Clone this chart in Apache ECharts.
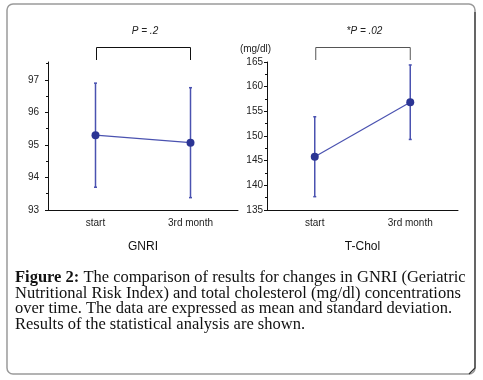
<!DOCTYPE html>
<html>
<head>
<meta charset="utf-8">
<script src="https://cdn.jsdelivr.net/npm/echarts@6/dist/echarts.min.js"></script>
<style>
  html, body { margin: 0; padding: 0; background: #fff; }
  #chart { width: 483px; height: 380px; }
</style>
</head>
<body>
<div id="chart"></div>
<script>
const categories = ['start', '3rd month'];
const gnriMean = [95.3, 95.07];
const gnriSd = [1.6, 1.69];
const cholMean = [145.8, 156.85];
const cholSd = [8.1, 7.55];
const gnriTicks = [93, 94, 95, 96, 97];
const pLabels = ['P = .2', '*P = .02'];
const captionLines = [
  'The comparison of results for changes in GNRI (Geriatric',
  'Nutritional Risk Index) and total cholesterol (mg/dl) concentrations',
  'over time. The data are expressed as mean and standard deviation.',
  'Results of the statistical analysis are shown.',
];

const dotColor = '#2b3594';
const lineColor = '#4a52b0';
const axisFont = { fontFamily: 'Liberation Sans', fontSize: 10, color: '#222' };

const chart = echarts.init(document.getElementById('chart'), null, { renderer: 'canvas' });

// mean +/- sd as [cat, low, high]
const errData = (mean, sd) => mean.map((m, i) => [i, +(m - sd[i]).toFixed(2), +(m + sd[i]).toFixed(2)]);

const renderErr = (params, api) => {
  const lo = api.coord([api.value(0), api.value(1)]);
  const hi = api.coord([api.value(0), api.value(2)]);
  const cap = 1.5;
  const style = { stroke: lineColor, lineWidth: 1.5 };
  return {
    type: 'group',
    children: [
      { type: 'line', shape: { x1: lo[0], y1: lo[1], x2: hi[0], y2: hi[1] }, style },
      { type: 'line', shape: { x1: lo[0] - cap, y1: lo[1], x2: lo[0] + cap, y2: lo[1] }, style },
      { type: 'line', shape: { x1: hi[0] - cap, y1: hi[1], x2: hi[0] + cap, y2: hi[1] }, style },
    ],
  };
};

const xAxisBase = (idx, name) => ({
  type: 'category',
  gridIndex: idx,
  data: categories,
  boundaryGap: true,
  name: name,
  nameLocation: 'middle',
  nameGap: 31,
  nameTextStyle: { fontFamily: 'Liberation Sans', fontSize: 12, color: '#111' },
  axisLine: { lineStyle: { color: '#111', width: 1 } },
  axisTick: { alignWithLabel: true, length: 3, lineStyle: { color: '#111' } },
  axisLabel: Object.assign({ margin: 8 }, axisFont),
  splitLine: { show: false },
});

const option = {
  backgroundColor: '#fff',
  animation: false,
  grid: [
    { left: 48, top: 62, width: 190, height: 148, containLabel: false },
    { left: 267, top: 62, width: 191, height: 148, containLabel: false },
  ],
  xAxis: [xAxisBase(0, 'GNRI'), xAxisBase(1, 'T-Chol')],
  yAxis: [
    {
      type: 'value',
      gridIndex: 0,
      min: 93,
      max: 97.55,
      interval: 1,
      axisLine: { show: true, lineStyle: { color: '#111' } },
      axisTick: { show: true, length: 3, customValues: gnriTicks, lineStyle: { color: '#111' } },
      minorTick: { show: true, splitNumber: 2, length: 2, lineStyle: { color: '#111' } },
      axisLabel: Object.assign({ margin: 9, customValues: gnriTicks }, axisFont),
      splitLine: { show: false },
    },
    {
      type: 'value',
      gridIndex: 1,
      min: 135,
      max: 165,
      interval: 5,
      name: '(mg/dl)',
      nameLocation: 'end',
      nameGap: 8,
      nameTextStyle: { fontFamily: 'Liberation Sans', fontSize: 10, color: '#222', align: 'right', padding: [0, -4, 0, 0] },
      axisLine: { show: true, lineStyle: { color: '#111' } },
      axisTick: { show: true, length: 3, lineStyle: { color: '#111' } },
      minorTick: { show: true, splitNumber: 2, length: 2, lineStyle: { color: '#111' } },
      axisLabel: Object.assign({ margin: 4 }, axisFont),
      splitLine: { show: false },
    },
  ],
  series: [
    {
      type: 'custom',
      xAxisIndex: 0,
      yAxisIndex: 0,
      renderItem: renderErr,
      data: errData(gnriMean, gnriSd),
      z: 2,
    },
    {
      type: 'line',
      xAxisIndex: 0,
      yAxisIndex: 0,
      data: gnriMean,
      symbol: 'circle',
      symbolSize: 8,
      itemStyle: { color: dotColor },
      lineStyle: { color: lineColor, width: 1.2 },
      z: 3,
    },
    {
      type: 'custom',
      xAxisIndex: 1,
      yAxisIndex: 1,
      renderItem: renderErr,
      data: errData(cholMean, cholSd),
      z: 2,
    },
    {
      type: 'line',
      xAxisIndex: 1,
      yAxisIndex: 1,
      data: cholMean,
      symbol: 'circle',
      symbolSize: 8,
      itemStyle: { color: dotColor },
      lineStyle: { color: lineColor, width: 1.2 },
      z: 3,
    },
  ],
};

chart.setOption(option);

// brackets + p values above each panel, and the frame and caption
const graphics = [];
graphics.push({
  type: 'rect',
  shape: { x: 7, y: 4, width: 468, height: 370, r: 6 },
  style: { fill: 'none', stroke: '#9a9a9a', lineWidth: 1.5 },
  z: -1,
});
graphics.push({
  type: 'polyline',
  shape: { points: [[475, 12], [475, 368], [469, 374]] },
  style: { fill: 'none', stroke: '#333', lineWidth: 1.2 },
});

[0, 1].forEach((g) => {
  const x1 = chart.convertToPixel({ xAxisIndex: g }, categories[0]);
  const x2 = chart.convertToPixel({ xAxisIndex: g }, categories[1]);
  graphics.push({
    type: 'polyline',
    shape: { points: [[x1 + 1, 60], [x1 + 1, 47.5], [x2, 47.5], [x2, 60]] },
    style: { fill: 'none', stroke: g === 0 ? '#111' : '#555', lineWidth: 1 },
  });
  graphics.push({
    type: 'text',
    x: (x1 + x2) / 2 + 2,
    y: 31,
    style: {
      text: pLabels[g],
      fontFamily: 'Liberation Sans',
      fontStyle: 'italic',
      fontSize: 10,
      fill: '#222',
      align: 'center',
      verticalAlign: 'middle',
    },
  });
});

captionLines.forEach((line, i) => {
  graphics.push({
    type: 'text',
    x: 15,
    y: 278 + i * 15.4,
    style: {
      text: i === 0 ? '{b|Figure 2:} ' + line : line,
      fontFamily: 'Liberation Serif',
      fontSize: 16.5,
      fill: '#111',
      verticalAlign: 'middle',
      rich: { b: { fontFamily: 'Liberation Serif', fontSize: 16.5, fontWeight: 'bold', fill: '#111' } },
    },
  });
});

chart.setOption({ graphic: graphics });
window.addEventListener('resize', chart.resize);
</script>
</body>
</html>
